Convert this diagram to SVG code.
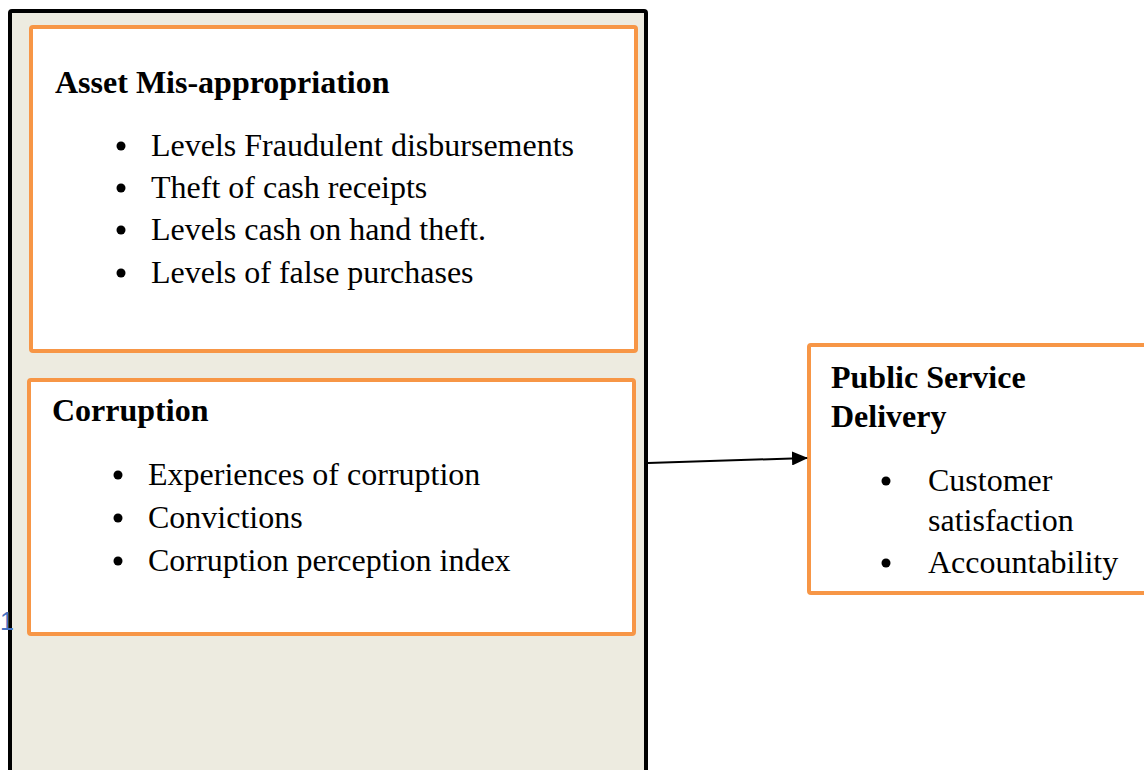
<svg xmlns="http://www.w3.org/2000/svg" width="1144" height="770" viewBox="0 0 1144 770">
<style>
.box{fill:#fff;stroke:#F79646;stroke-width:4}
.h{font-family:"Liberation Serif",serif;font-weight:bold;font-size:32px;fill:#000}
.t{font-family:"Liberation Serif",serif;font-size:32px;fill:#000}
.b{fill:#000}
</style>
<defs>
<marker id="arr" markerWidth="16" markerHeight="14" refX="15" refY="7" orient="auto" markerUnits="userSpaceOnUse">
<path d="M0,0 L16,7 L0,14 Z" fill="#000"/>
</marker>
</defs>
<rect width="1144" height="770" fill="#fff"/>
<g id="container">
<rect x="10" y="11" width="636" height="770" fill="#EDEBE0" stroke="#000" stroke-width="4" rx="2"/>
</g>
<text x="0" y="630" font-family="Liberation Sans,sans-serif" font-size="25" fill="#4472C4">1</text>
<g id="asset">
<rect class="box" x="31" y="27" width="605" height="324" rx="2"/>
<text class="h" x="55" y="93">Asset Mis-appropriation</text>
<circle class="b" cx="121" cy="146" r="4.5"/>
<text class="t" x="151" y="156">Levels Fraudulent disbursements</text>
<circle class="b" cx="121" cy="188" r="4.5"/>
<text class="t" x="151" y="198">Theft of cash receipts</text>
<circle class="b" cx="121" cy="230" r="4.5"/>
<text class="t" x="151" y="240">Levels cash on hand theft.</text>
<circle class="b" cx="121" cy="273" r="4.5"/>
<text class="t" x="151" y="283">Levels of false purchases</text>
</g>
<g id="corruption">
<rect class="box" x="29" y="380" width="605" height="254" rx="2"/>
<text class="h" x="52" y="421">Corruption</text>
<circle class="b" cx="118" cy="475" r="4.5"/>
<text class="t" x="148" y="485">Experiences of corruption</text>
<circle class="b" cx="118" cy="518" r="4.5"/>
<text class="t" x="148" y="528">Convictions</text>
<circle class="b" cx="118" cy="561" r="4.5"/>
<text class="t" x="148" y="571">Corruption perception index</text>
</g>
<g id="psd">
<rect class="box" x="809" y="345" width="345" height="248" rx="2"/>
<text class="h" x="831" y="388">Public Service</text>
<text class="h" x="831" y="427">Delivery</text>
<circle class="b" cx="886" cy="481" r="4.5"/>
<text class="t" x="928" y="491">Customer</text>
<text class="t" x="928" y="531">satisfaction</text>
<circle class="b" cx="886" cy="563" r="4.5"/>
<text class="t" x="928" y="573">Accountability</text>
</g>
<g id="connectors">
<line x1="648" y1="463" x2="807" y2="458" stroke="#000" stroke-width="2" marker-end="url(#arr)"/>
</g>
</svg>
